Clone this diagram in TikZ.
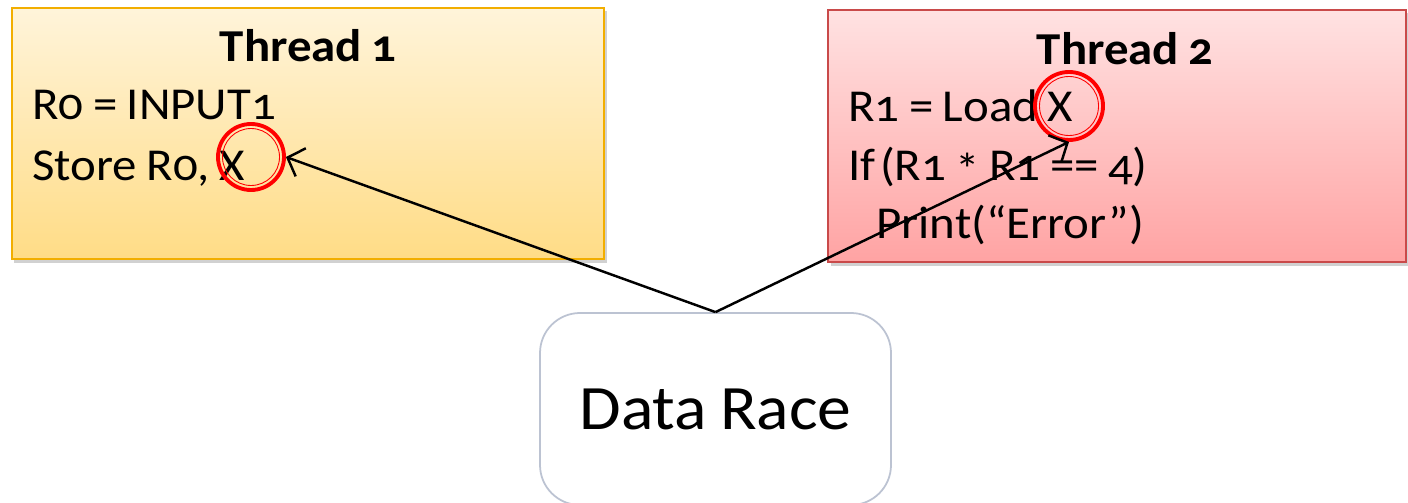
\documentclass[tikz,border=0pt]{standalone}
\usepackage{fontspec}
\setmainfont{Carlito}[Numbers=OldStyle, FakeStretch=1.07, WordSpace=0.85]
\usetikzlibrary{shadows,arrows.meta}
\definecolor{ylwTop}{HTML}{FFF4DA}
\definecolor{ylwBot}{HTML}{FFDC86}
\definecolor{ylwLine}{HTML}{F2AE00}
\definecolor{redTop}{HTML}{FFE2E2}
\definecolor{redBot}{HTML}{FFA3A3}
\definecolor{redLine}{HTML}{C94A4A}
\definecolor{raceLine}{HTML}{BCC3D2}
\newcommand{\midstar}{\raisebox{-0.12em}{*}}
\begin{document}
\begin{tikzpicture}[x=0.02cm,y=-0.02cm,
  threadbox/.style={draw, line width=1pt, drop shadow={shadow xshift=0.05cm, shadow yshift=-0.07cm, opacity=0.3, fill=black!60}},
  codeline/.style={anchor=base west, inner sep=0pt, font=\fontsize{26}{30}\selectfont},
  titleline/.style={anchor=base, inner sep=0pt, font=\fontsize{26}{30}\selectfont\bfseries},
  ring/.style={circle, draw=red, line width=2.2pt, minimum size=#1, inner sep=0pt},
  innerring/.style={circle, draw=red, line width=0.5pt, minimum size=#1, inner sep=0pt},
  link/.style={draw, line width=1.4pt, -{Straight Barb[length=8pt,width=17pt,line width=1.4pt]}}
]
\useasboundingbox (0,0) rectangle (1408,503);

% thread 1 panel
\path[threadbox, draw=ylwLine, top color=ylwTop, bottom color=ylwBot] (12,8) rectangle (604,259);
\node[titleline] (t1) at (308,62) {Thread 1};
\node[codeline] (a1) at (32,120) {R0 = INPUT1};
\node[codeline] (a2) at (32,180) {Store R0, X};

% thread 2 panel
\path[threadbox, draw=redLine, top color=redTop, bottom color=redBot] (828,10) rectangle (1406,262);
\node[titleline] (t2) at (1125,65) {Thread 2};
\node[codeline] (b1) at (848,122) {R1 = Load X};
\node[codeline] (b2) at (848,180) {If\kern0.1em(R1 \midstar{} R1 == 4)};
\node[codeline] (b3) at (876,238) {Print(“Error”)};

% highlighted operands
\node[ring=66*0.02cm] (c1) at (251,157) {};
\node[innerring=57*0.02cm] at (251,157) {};
\node[ring=68*0.02cm] (c2) at (1069,106) {};
\node[innerring=59*0.02cm] at (1069,106) {};

% data race box
\node[draw=raceLine, line width=1pt, rounded corners=0.8cm, minimum width=351*0.02cm, minimum height=192*0.02cm, fill=white, font=\fontsize{36}{44}\selectfont] (dr) at (715.5,409) {Data Race};

\draw[link] (dr.north) -- (c1.east);
\draw[link] (dr.north) -- (c2.south);
\end{tikzpicture}
\end{document}
